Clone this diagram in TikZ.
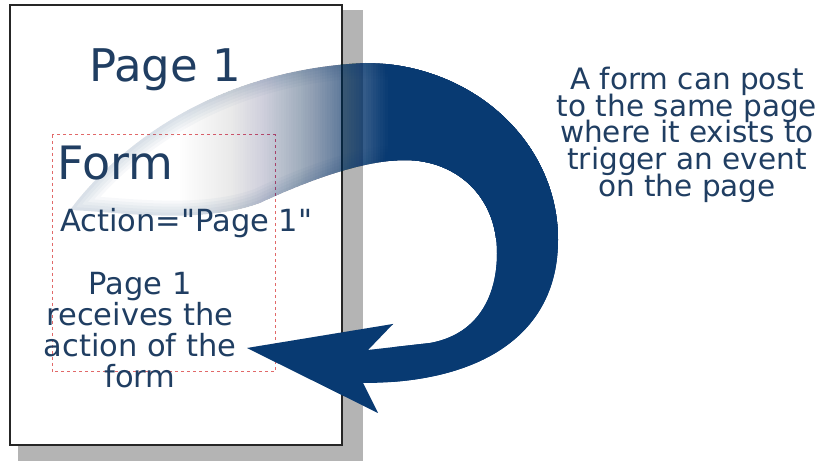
\documentclass[tikz,border=0pt]{standalone}
\usepackage{fontspec}
\setmainfont{DejaVu Sans}[Ligatures=TeXOff]
\definecolor{arrowblue}{RGB}{8,58,114}
\definecolor{txtblue}{RGB}{32,62,98}
\definecolor{shadowgray}{RGB}{180,180,180}
\definecolor{dashred}{RGB}{225,105,105}
\tikzset{
  lbl/.style={text=txtblue, inner sep=0pt, anchor=base},
  bigfont/.style={font=\fontsize{45}{54}\selectfont},
  formfont/.style={font=\fontsize{46}{55}\selectfont},
  midfont/.style={font=\fontsize{30.5}{36}\selectfont},
  sidefont/.style={font=\fontsize{29.5}{34}\selectfont},
}
\newcommand\arrowoutline[1]{%
  \path[#1] (70,210) .. controls (115,150) and (210,70) .. (365,63)
   .. controls (470,63) and (558,140) .. (558,240)
   .. controls (558,335) and (480,383) .. (363,383)
   -- (378,413) -- (247,348) -- (393,324) -- (368,350)
   -- (430,343) .. controls (475,335) and (497,300) .. (497,253)
   .. controls (497,195) and (455,160) .. (405,160)
   .. controls (370,160) and (320,175) .. (260,203)
   .. controls (200,225) and (120,212) .. (70,210) -- cycle;}
\begin{document}
\begin{tikzpicture}[x=1pt,y=-1pt]
\useasboundingbox (0,0) rectangle (828,462);
\fill[white] (0,0) rectangle (828,462);
% page shadow and page
\fill[shadowgray] (18,10) rectangle (363,461);
\draw[fill=white, line width=1.2pt, draw=black!85] (10,5) rectangle (342,445);
% dashed form box
\draw[dashred, line width=1pt, dash pattern=on 3pt off 3pt] (52,135) rectangle (275,372);
% curved arrow
\begin{scope}
\arrowoutline{clip}
\foreach \i in {1,...,120}{
  \pgfmathsetmacro\ok{(\i/120)^3}
  \pgfmathsetmacro\okm{((\i-1)/120)^3}
  \pgfmathsetmacro\aa{1-(1-\ok)/(1-\okm)}
  \fill[arrowblue, fill opacity=\aa] ({100+(\i-1)*2.4167},0) rectangle (600,240);
}
\foreach \w in {30,24,18,12,6}{
  \arrowoutline{draw=arrowblue, line width=\w pt, draw opacity=0.03, line join=round}
}
\fill[arrowblue] (0,240) rectangle (828,462);
\fill[arrowblue] (392,0) rectangle (828,462);
\end{scope}
% texts
\node[lbl, bigfont] (p1) at (165,82) {Page 1};
\node[lbl, formfont, anchor=base west] (form) at (57,180) {Form};
\node[lbl, midfont, anchor=base west] (act) at (60,232) {Action="Page 1"};
\node[lbl, midfont] (r1) at (140,295) {Page 1};
\node[lbl, midfont] (r2) at (140,326) {receives the};
\node[lbl, midfont] (r3) at (140,357) {action of the};
\node[lbl, midfont] (r4) at (140,388) {form};
\node[lbl, sidefont] (n1) at (687,90) {A form can post};
\node[lbl, sidefont] (n2) at (687,117) {to the same page};
\node[lbl, sidefont] (n3) at (687,143) {where it exists to};
\node[lbl, sidefont] (n4) at (687,170) {trigger an event};
\node[lbl, sidefont] (n5) at (687,197) {on the page};
\end{tikzpicture}
\end{document}
